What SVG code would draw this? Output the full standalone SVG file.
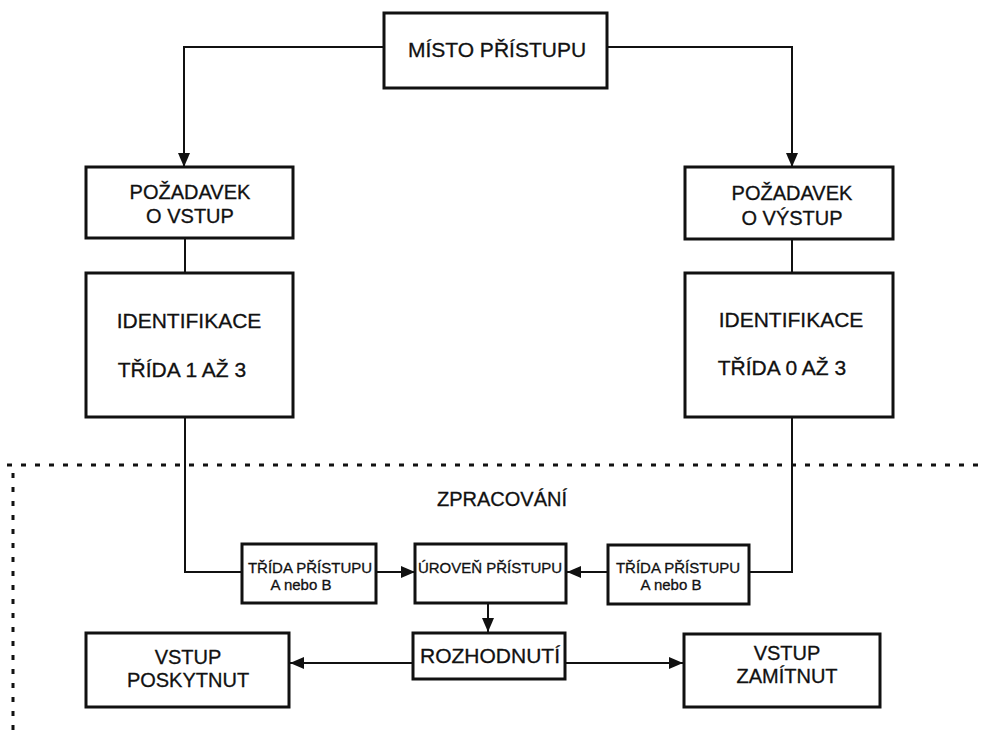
<svg xmlns="http://www.w3.org/2000/svg" width="983" height="737" viewBox="0 0 983 737">
  <defs>
    <marker id="arrow" viewBox="0 0 14 12" refX="14" refY="6" markerWidth="14" markerHeight="12" markerUnits="userSpaceOnUse" orient="auto">
      <path d="M0,0 L14,6 L0,12 Z" fill="#111"/>
    </marker>
    <style>
      .box { fill: #fff; stroke: #111; stroke-width: 3; }
      .wire { fill: none; stroke: #111; stroke-width: 2; }
      .arr { marker-end: url(#arrow); }
      .zone { fill: none; stroke: #111; stroke-width: 3; stroke-dasharray: 5 9; }
      text { font-family: "Liberation Sans", Arial, sans-serif; fill: #111; text-anchor: middle; stroke: #111; stroke-width: 0.3; }
      .big { font-size: 20px; }
      .mid { font-size: 21px; }
      .small { font-size: 15px; }
    </style>
  </defs>
  <rect width="983" height="737" fill="#fff"/>

  <!-- processing zone boundary -->
  <g id="zone">
    <path class="zone" d="M7,465 H983"/>
    <path class="zone" d="M13,473 V737"/>
    <text class="big" x="502" y="506">ZPRACOVÁNÍ</text>
  </g>

  <g id="connectors">
    <path class="wire arr" d="M384,47 H184 V167"/>
    <path class="wire arr" d="M607,47 H792 V167"/>
    <path class="wire" d="M185,238 V273"/>
    <path class="wire" d="M792,239 V273"/>
    <path class="wire" d="M185,417 V572 H242"/>
    <path class="wire" d="M792,417 V572 H749"/>
    <path class="wire arr" d="M376,572 H415"/>
    <path class="wire arr" d="M608,572 H567"/>
    <path class="wire arr" d="M488,603 V632"/>
    <path class="wire arr" d="M413,663 H290"/>
    <path class="wire arr" d="M565,663 H683"/>
  </g>

  <g id="misto">
    <rect class="box" x="384" y="13" width="223" height="75"/>
    <text class="mid" x="497" y="57">MÍSTO PŘÍSTUPU</text>
  </g>

  <g id="pozadavek-vstup">
    <rect class="box" x="86" y="167" width="207" height="71"/>
    <text class="big" x="190" y="199">POŽADAVEK</text>
    <text class="big" x="190" y="223">O VSTUP</text>
  </g>

  <g id="pozadavek-vystup">
    <rect class="box" x="685" y="167" width="208" height="72"/>
    <text class="big" x="792" y="200">POŽADAVEK</text>
    <text class="big" x="792" y="225">O VÝSTUP</text>
  </g>

  <g id="identifikace-vstup">
    <rect class="box" x="86" y="273" width="207" height="144"/>
    <text class="mid" x="189" y="328">IDENTIFIKACE</text>
    <text class="mid" x="182" y="377">TŘÍDA 1 AŽ 3</text>
  </g>

  <g id="identifikace-vystup">
    <rect class="box" x="685" y="273" width="208" height="144"/>
    <text class="mid" x="791" y="327">IDENTIFIKACE</text>
    <text class="mid" x="782" y="375">TŘÍDA 0 AŽ 3</text>
  </g>

  <g id="trida-vstup">
    <rect class="box" x="242" y="544" width="134" height="59"/>
    <text class="small" x="310" y="573">TŘÍDA PŘÍSTUPU</text>
    <text class="small" x="301" y="590">A nebo B</text>
  </g>

  <g id="uroven">
    <rect class="box" x="415" y="544" width="151" height="59"/>
    <text class="small" x="490" y="573">ÚROVEŇ PŘÍSTUPU</text>
  </g>

  <g id="trida-vystup">
    <rect class="box" x="608" y="545" width="141" height="59"/>
    <text class="small" x="678" y="573">TŘÍDA PŘÍSTUPU</text>
    <text class="small" x="671" y="590">A nebo B</text>
  </g>

  <g id="rozhodnuti">
    <rect class="box" x="413" y="633" width="152" height="46"/>
    <text class="mid" x="490" y="663">ROZHODNUTÍ</text>
  </g>

  <g id="poskytnut">
    <rect class="box" x="86" y="633" width="203" height="74"/>
    <text class="big" x="188" y="664">VSTUP</text>
    <text class="big" x="188" y="687">POSKYTNUT</text>
  </g>

  <g id="zamitnut">
    <rect class="box" x="684" y="634" width="196" height="73"/>
    <text class="big" x="787" y="660">VSTUP</text>
    <text class="big" x="787" y="683">ZAMÍTNUT</text>
  </g>
</svg>
